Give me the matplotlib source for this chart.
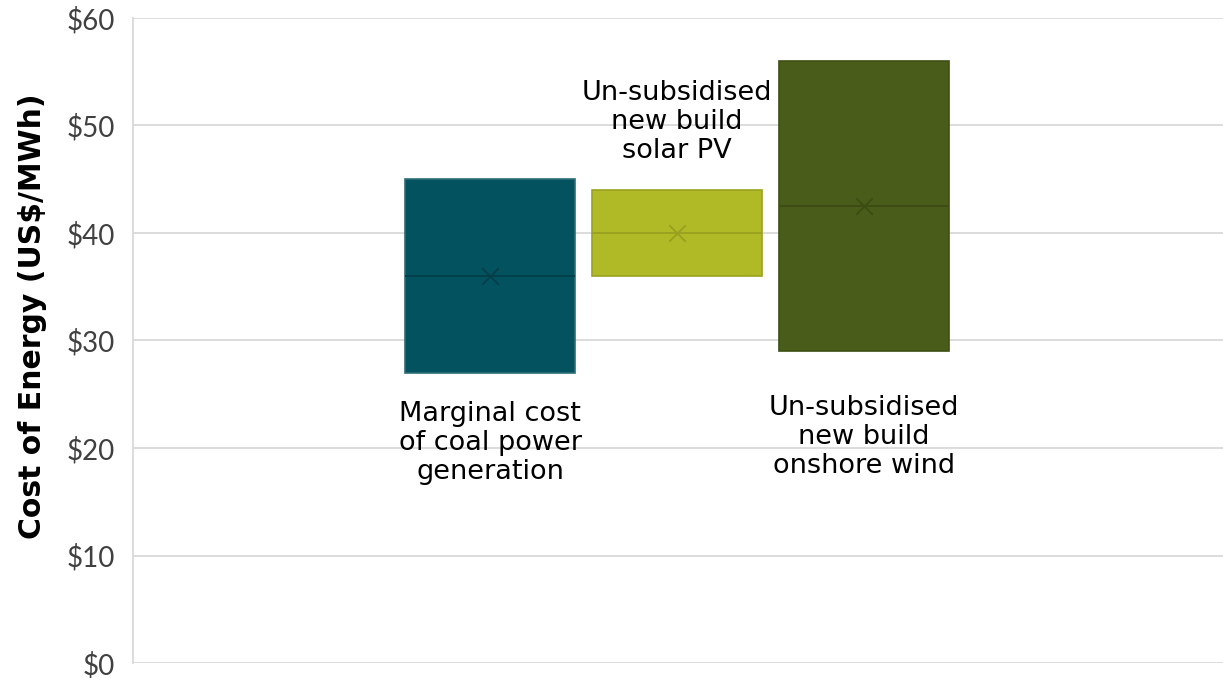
import matplotlib.pyplot as plt
import numpy as np

categories = ['Marginal cost\nof coal power\ngeneration',
              'Un-subsidised\nnew build\nsolar PV',
              'Un-subsidised\nnew build\nonshore wind']
low = [27, 36, 29]
high = [45, 44, 56]
median = [36, 40, 42.5]
mean = [36, 40, 42.5]

colors = ['#02525F', '#B0BA26', '#4A5C19']
edge_colors = ['#2F6E78', '#9AA31F', '#3E4F14']
line_colors = ['#053F48', '#98A020', '#3C4C13']

fig = plt.figure(figsize=(12.23, 6.78), dpi=100)
ax = fig.add_axes([0.1088, 0.0221, 0.8912, 0.9514])

x = np.arange(len(categories))
width = 0.91
lo = np.array(low)
hi = np.array(high)
ax.bar(x, hi - lo, bottom=lo, width=width, color=colors,
       edgecolor=edge_colors, linewidth=1.2, zorder=3)
for i in range(len(x)):
    ax.hlines(median[i], x[i] - width / 2, x[i] + width / 2,
              color=line_colors[i], linewidth=1.3, zorder=4)
    ax.scatter(x[i], mean[i], marker='x', s=140, color=line_colors[i],
               linewidths=1.3, zorder=5)

# category labels (centre of text block relative to box ends)
lab_font = dict(family='DejaVu Sans', fontsize=19.5, color='black',
                ha='center', va='center', linespacing=1.15)
ax.text(x[0], low[0] - 6.55, categories[0], **lab_font)
ax.text(x[1], high[1] + 6.3, categories[1], **lab_font)
ax.text(x[2], low[2] - 7.95, categories[2], **lab_font)

ax.set_xlim(-1.909, 3.92)
ax.set_ylim(0, 60)
ax.set_yticks(np.arange(0, 61, 10))
ax.set_yticklabels([f'${v}' for v in range(0, 61, 10)],
                   fontsize=20, family='Lato', color='#404040')
ax.set_xticks([])
ax.tick_params(axis='y', length=0, pad=13)
ax.grid(axis='y', color='#D9D9D9', linewidth=1.3, zorder=0)
ax.set_axisbelow(True)
for s in ['top', 'right', 'bottom']:
    ax.spines[s].set_visible(False)
ax.spines['left'].set_color('#D9D9D9')
ax.spines['left'].set_linewidth(1.3)

ax.set_ylabel('Cost of Energy (US$/MWh)', fontsize=21.5, fontweight='bold',
              family='DejaVu Sans')
ax.yaxis.set_label_coords(-0.079, 0.538)

fig.savefig('out.png', dpi=100)
